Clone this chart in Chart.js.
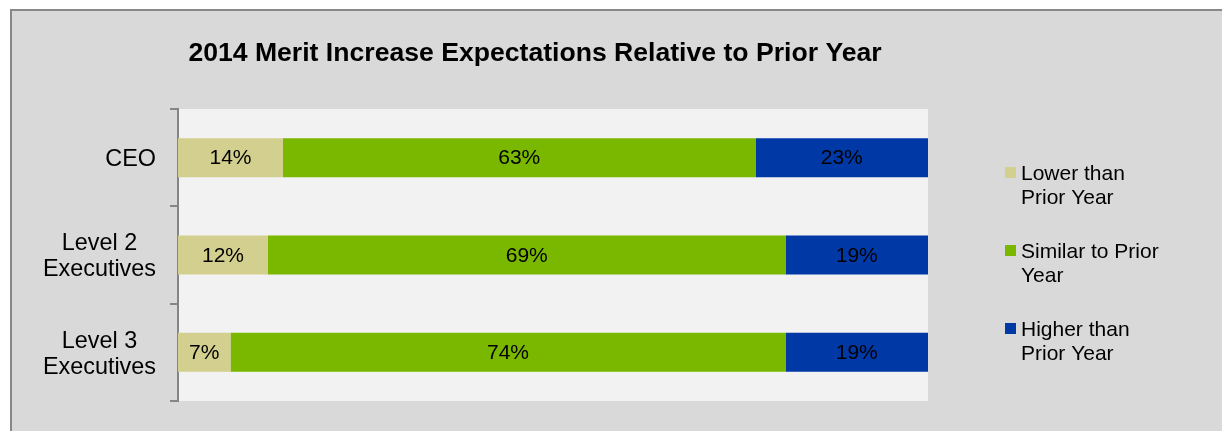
<!DOCTYPE html>
<html>
<head>
<meta charset="utf-8">
<title>2014 Merit Increase Expectations</title>
<script src="https://cdn.jsdelivr.net/npm/chart.js@4"></script>
<style>
  html, body { margin: 0; padding: 0; background: #fff; overflow: hidden; }
  .frame {
    position: absolute; left: 10px; top: 9px;
    width: 1300px; height: 500px;
    background: #d9d9d9; border: 2px solid #888;
  }
  .wrap { position: absolute; left: 0; top: 0; width: 1222px; height: 431px; }
</style>
</head>
<body>
<div class="frame"></div>
<div class="wrap"><canvas id="meritChart"></canvas></div>
<script>
const categories = ['CEO', ['Level 2', 'Executives'], ['Level 3', 'Executives']];

const lowerThanPrior = [14, 12, 7];
const similarToPrior = [63, 69, 74];
const higherThanPrior = [23, 19, 19];

const seriesNames = [
  ['Lower than', 'Prior Year'],
  ['Similar to Prior', 'Year'],
  ['Higher than', 'Prior Year']
];

const chartTitle = '2014 Merit Increase Expectations Relative to Prior Year';
const FONT = '"Liberation Sans", Arial, sans-serif';

// light plot background behind the bars
const plotBackground = {
  id: 'plotBackground',
  beforeDraw(chart) {
    const { ctx, chartArea: a } = chart;
    ctx.save();
    ctx.fillStyle = '#f2f2f2';
    ctx.fillRect(a.left, a.top, a.right - a.left, a.bottom - a.top);
    ctx.restore();
  }
};

// category names: lines centred on each other, block right-aligned to the axis
const categoryLabels = {
  id: 'categoryLabels',
  afterDraw(chart) {
    const ctx = chart.ctx;
    const scale = chart.scales.y;
    const right = scale.right - 22;
    const lineH = 26;
    ctx.save();
    ctx.font = '23.4px ' + FONT;
    ctx.fillStyle = '#000';
    ctx.textAlign = 'center';
    ctx.textBaseline = 'middle';
    chart.data.labels.forEach((lbl, i) => {
      const lines = Array.isArray(lbl) ? lbl : [lbl];
      const widest = Math.max(...lines.map(l => ctx.measureText(l).width));
      const y = scale.getPixelForTick(i) + 2;
      lines.forEach((l, j) => {
        ctx.fillText(l, right - widest / 2, y + (j - (lines.length - 1) / 2) * lineH);
      });
    });
    ctx.restore();
  }
};

// percentage inside every bar segment
const segmentValues = {
  id: 'segmentValues',
  afterDatasetsDraw(chart) {
    const ctx = chart.ctx;
    ctx.save();
    ctx.font = '21px ' + FONT;
    ctx.fillStyle = '#000';
    ctx.textAlign = 'center';
    ctx.textBaseline = 'middle';
    chart.data.datasets.forEach((ds, d) => {
      chart.getDatasetMeta(d).data.forEach((bar, i) => {
        ctx.fillText(ds.data[i] + '%', (bar.x + bar.base) / 2, bar.y + 1);
      });
    });
    ctx.restore();
  }
};

// title and the key on the right
const titleAndKey = {
  id: 'titleAndKey',
  afterDraw(chart) {
    const ctx = chart.ctx;
    ctx.save();
    ctx.fillStyle = '#000';
    ctx.textAlign = 'center';
    ctx.textBaseline = 'middle';
    ctx.font = 'bold 26.6px ' + FONT;
    ctx.fillText(chartTitle, 535, 54);

    ctx.font = '21px ' + FONT;
    ctx.textAlign = 'left';
    chart.data.datasets.forEach((ds, d) => {
      const top = 167 + d * 78;
      ctx.fillStyle = ds.backgroundColor;
      ctx.fillRect(1005, top, 11, 11);
      ctx.fillStyle = '#000';
      ds.label.forEach((line, j) => {
        ctx.fillText(line, 1021, top + 7 + j * 24);
      });
    });
    ctx.restore();
  }
};

new Chart(document.getElementById('meritChart'), {
  type: 'bar',
  data: {
    labels: categories,
    datasets: [
      { label: seriesNames[0], data: lowerThanPrior, backgroundColor: '#d3cf8f' },
      { label: seriesNames[1], data: similarToPrior, backgroundColor: '#7ab800' },
      { label: seriesNames[2], data: higherThanPrior, backgroundColor: '#0039a6' }
    ]
  },
  options: {
    indexAxis: 'y',
    responsive: true,
    maintainAspectRatio: false,
    animation: false,
    events: [],
    datasets: {
      bar: { categoryPercentage: 0.8, barPercentage: 0.5, borderWidth: 0 }
    },
    layout: { padding: { top: 109, right: 294, bottom: 30, left: 0 } },
    scales: {
      x: { stacked: true, min: 0, max: 100, display: false },
      y: {
        stacked: true,
        afterFit(scale) { scale.width = 178; },
        border: { display: true, color: '#858585', width: 2 },
        grid: {
          offset: true,
          drawOnChartArea: false,
          drawTicks: true,
          tickLength: 8,
          color: '#858585',
          lineWidth: 2
        },
        ticks: { display: false }
      }
    },
    plugins: {
      legend: { display: false },
      title: { display: false },
      tooltip: { enabled: false }
    }
  },
  plugins: [plotBackground, categoryLabels, segmentValues, titleAndKey]
});
</script>
</body>
</html>
